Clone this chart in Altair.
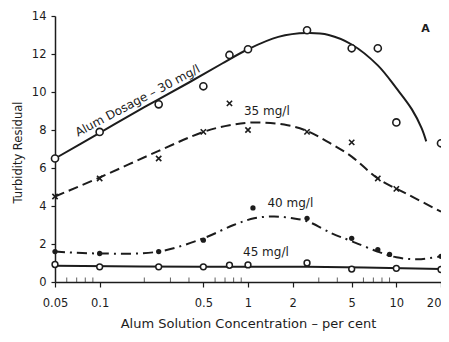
import altair as alt
import pandas as pd

# ---- data ----
# measured points (markers)
p30_x = [0.05, 0.1, 0.25, 0.5, 0.75, 1.0, 2.5, 5, 7.5, 10, 20]
p30_y = [6.5, 7.9, 9.35, 10.3, 11.95, 12.25, 13.25, 12.3, 12.3, 8.4, 7.3]
p35_x = [0.05, 0.1, 0.25, 0.5, 0.75, 1.0, 2.5, 5, 7.5, 10]
p35_y = [4.5, 5.45, 6.5, 7.9, 9.4, 8.0, 7.9, 7.35, 5.45, 4.9]
p40_x = [0.05, 0.1, 0.25, 0.5, 1.08, 2.5, 5, 7.5, 9, 20]
p40_y = [1.6, 1.5, 1.6, 2.2, 3.9, 3.35, 2.3, 1.7, 1.45, 1.35]
p45_x = [0.05, 0.1, 0.25, 0.5, 0.75, 1.0, 2.5, 5, 10, 20]
p45_y = [0.92, 0.8, 0.8, 0.8, 0.88, 0.9, 1.0, 0.68, 0.72, 0.66]

# fitted curves (hand drawn in the original)
c30_x = [0.05, 0.1, 0.2, 0.4, 0.67, 1.0, 1.6, 2.5, 3.5, 5, 7.5, 10, 12.7, 14.8, 15.9]
c30_y = [6.5, 7.85, 9.2, 10.5, 11.5, 12.25, 12.9, 13.1, 13.0, 12.5, 11.4, 10.2, 9.1, 8.1, 7.4]
c35_x = [0.05, 0.1, 0.25, 0.5, 0.75, 1.1, 1.85, 2.5, 3.5, 5, 7.5, 12, 20]
c35_y = [4.5, 5.5, 6.9, 7.9, 8.25, 8.4, 8.25, 7.95, 7.35, 6.6, 5.45, 4.6, 3.7]
c40_x = [0.05, 0.1, 0.25, 0.5, 0.8, 1.1, 1.5, 2.0, 2.5, 3.7, 5, 7.5, 10, 14, 20]
c40_y = [1.6, 1.5, 1.6, 2.3, 3.0, 3.35, 3.45, 3.35, 3.2, 2.55, 2.15, 1.6, 1.3, 1.2, 1.35]
c45_x = [0.05, 0.5, 2.5, 20]
c45_y = [0.85, 0.8, 0.8, 0.68]

major_ticks = [0.05, 0.1, 0.5, 1, 2, 5, 10, 20]
minor_ticks = [0.06, 0.07, 0.08, 0.09, 0.2, 0.3, 0.4, 0.6, 0.7, 0.8, 0.9,
               3, 4, 6, 7, 8, 9]
y_ticks = [0, 2, 4, 6, 8, 10, 12, 14]

labels_text = ["Alum Dosage \u2013 30 mg/l", "35 mg/l", "40 mg/l", "45 mg/l"]
labels_x = [0.18, 1.34, 1.93, 1.32]
labels_y = [9.55, 9.0, 4.15, 1.6]
labels_angle = [332, 0, 0, 0]

INK = "#1c1c1c"
FONT = "DejaVu Sans"

xs = alt.Scale(type="log", domain=[0.05, 20], nice=False)
ys = alt.Scale(domain=[0, 14], nice=False)

xaxis = alt.Axis(values=major_ticks, title="Alum Solution Concentration \u2013 per cent",
                 labelExpr="datum.value < 1 ? format(datum.value, '.2~f') : format(datum.value, 'd')",
                 labelAlign={"expr": "datum.value >= 20 ? 'right' : 'center'"},
                 grid=False, tickSize=5, labelPadding=10, titlePadding=9,
                 labelFontSize=11.5, titleFontSize=13, labelOverlap=False, labelFlush=False)
yaxis = alt.Axis(values=y_ticks, title="Turbidity Residual",
                 grid=False, tickSize=4, labelPadding=5, labelFontSize=11.5,
                 labelOverlap=False, labelFlush=False, tickCount=8,
                 titleFontSize=11.5, titleX=-37, titleY=136, titleBaseline="middle")

X = lambda: alt.X("x:Q", scale=xs, axis=xaxis)
Y = lambda: alt.Y("y:Q", scale=ys, axis=yaxis)


def curve(xv, yv, dash=None):
    df = pd.DataFrame({"x": xv, "y": yv})
    kw = dict(color=INK, strokeWidth=2, interpolate="catmull-rom")
    if dash:
        kw["strokeDash"] = dash
    return alt.Chart(df).mark_line(**kw).encode(x=X(), y=Y())


def pts(xv, yv, **kw):
    df = pd.DataFrame({"x": xv, "y": yv})
    return alt.Chart(df).mark_point(**kw).encode(x=X(), y=Y())


l30 = curve(c30_x, c30_y)
l35 = curve(c35_x, c35_y, [10, 5])
l40 = curve(c40_x, c40_y, [10, 5, 2, 5])
l45 = curve(c45_x, c45_y)

m30 = pts(p30_x, p30_y, shape="circle", size=50, filled=True, fill="white", stroke=INK, strokeWidth=1.6, opacity=1)
m35 = pts(p35_x, p35_y, shape="M-1,-1L1,1M-1,1L1,-1", size=28, stroke=INK, strokeWidth=1.6, opacity=1)
m40 = pts(p40_x, p40_y, shape="circle", size=28, filled=True, color=INK, opacity=1)
m45 = pts(p45_x, p45_y, shape="circle", size=34, filled=True, fill="white", stroke=INK, strokeWidth=1.5, opacity=1)

minor = alt.Chart(pd.DataFrame({"x": minor_ticks, "y": [0] * len(minor_ticks)})).mark_tick(
    color=INK, size=5, thickness=1, yOffset=-2).encode(x=X(), y=Y())

lab_df = pd.DataFrame({"t": labels_text, "x": labels_x, "y": labels_y, "a": labels_angle})
labs = alt.Chart(lab_df).mark_text(font=FONT, fontSize=12, color=INK).encode(
    x=X(), y=Y(), text="t:N", angle=alt.Angle("a:Q", scale=None))

a_df = pd.DataFrame({"t": ["A"], "x": [15.7], "y": [13.3]})
alab = alt.Chart(a_df).mark_text(font=FONT, fontSize=11, fontWeight="bold", color=INK).encode(
    x=X(), y=Y(), text="t:N")

chart = alt.layer(l30, l35, l40, l45, minor, m30, m35, m40, m45, labs, alab).properties(
    width=386, height=266,
    autosize=alt.AutoSizeParams(type="none"),
    padding={"left": 47, "top": 8, "right": 0, "bottom": 50},
    background="white",
).configure_view(stroke=None).configure_axis(
    domainColor=INK, tickColor=INK, labelColor=INK, titleColor=INK,
    labelFont=FONT, titleFont=FONT, domainWidth=1.5, tickWidth=1.2,
    titleFontWeight="normal",
)

chart.save("out.html", embed_options={"renderer": "svg", "actions": False})
